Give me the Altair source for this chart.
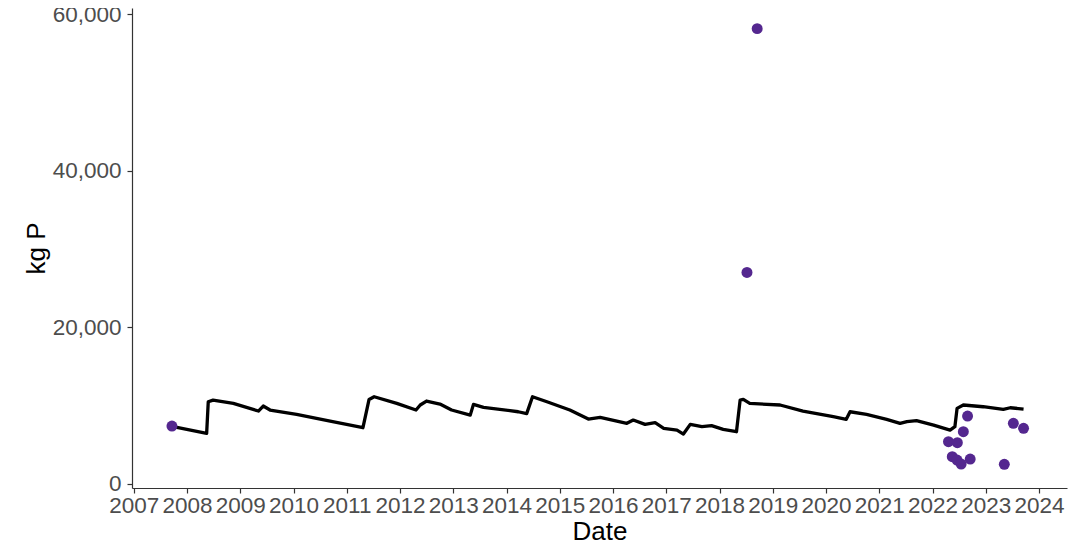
import altair as alt
import pandas as pd

line_dates = [
    "2007-09-20", "2008-05-15", "2008-05-26", "2008-06-28", "2008-11-14",
    "2009-05-05", "2009-06-07", "2009-07-24", "2010-01-22", "2010-09-09",
    "2011-04-22", "2011-06-03", "2011-07-08", "2011-12-10", "2012-04-20",
    "2012-05-19", "2012-07-01", "2012-10-01", "2012-12-20", "2013-04-27",
    "2013-05-19", "2013-07-27", "2014-03-22", "2014-05-19", "2014-06-28",
    "2014-10-05", "2015-03-11", "2015-07-16", "2015-10-05", "2016-04-05",
    "2016-05-19", "2016-08-08", "2016-10-16", "2016-12-14", "2017-03-15",
    "2017-04-28", "2017-06-14", "2017-09-02", "2017-11-07", "2018-01-26",
    "2018-04-27", "2018-05-22", "2018-06-13", "2018-07-27", "2019-02-20",
    "2019-07-27", "2020-02-20", "2020-05-19", "2020-06-14", "2020-10-05",
    "2021-02-20", "2021-05-23", "2021-07-09", "2021-09-13", "2022-01-08",
    "2022-05-01", "2022-06-03", "2022-06-18", "2022-07-31", "2022-12-14",
    "2023-05-01", "2023-06-18", "2023-09-17",
]
line_values = [
    7350, 6470, 10500, 10720, 10300,
    9320, 9960, 9450, 8900, 8040,
    7190, 10800, 11150, 10300, 9450,
    10090, 10600, 10210, 9450, 8800,
    10170, 9790, 9230, 8990, 11150,
    10510, 9450, 8300, 8510, 7750,
    8170, 7620, 7830, 7110, 6890,
    6380, 7620, 7320, 7450, 6980,
    6680, 10720, 10810, 10300, 10090,
    9320, 8600, 8260, 9230, 8900,
    8260, 7750, 7960, 8090, 7530,
    6890, 7320, 9660, 10090, 9870,
    9530, 9740, 9570,
]

point_dates = [
    "2007-09-20", "2018-07-08", "2018-09-16", "2022-04-20", "2022-05-16",
    "2022-06-20", "2022-06-18", "2022-07-16", "2022-07-31", "2022-08-29",
    "2022-09-16", "2023-05-08", "2023-07-09", "2023-09-17",
]
point_values = [
    7400, 27030, 58170, 5400, 3490,
    5270, 3060, 2550, 6680, 8680,
    3190, 2510, 7750, 7110,
]

line_df = pd.DataFrame({"Date": line_dates, "kgP": line_values})
point_df = pd.DataFrame({"Date": point_dates, "kgP": point_values})

FONT = "Liberation Sans"

x_enc = alt.X(
    "Date:T",
    title="Date",
    scale=alt.Scale(
        type="utc",
        domain=[alt.DateTime(year=2006, month=12, date=20, utc=True),
                alt.DateTime(year=2024, month=7, date=11, utc=True)],
    ),
    axis=alt.Axis(
        format="%Y",
        tickCount={"interval": "year", "step": 1},
        labelFlush=False,
        labelOverlap=False,
    ),
)
y_enc = alt.Y(
    "kgP:Q",
    title="kg P",
    scale=alt.Scale(domain=[-511, 60805], nice=False, zero=False),
    axis=alt.Axis(values=[0, 20000, 40000, 60000], format=",.0f"),
)

line = alt.Chart(line_df).mark_line(
    color="black", strokeWidth=3.3, strokeJoin="round"
).encode(x=x_enc, y=y_enc)
points = alt.Chart(point_df).mark_circle(color="#54278F", opacity=1, size=120).encode(x=x_enc, y=y_enc)

chart = (
    alt.layer(line, points)
    .properties(
        width=935,
        height=480,
        autosize=alt.AutoSizeParams(type="none"),
        padding={"left": 124, "top": 0, "right": 12, "bottom": 54},
    )
    .configure_view(stroke=None)
    .configure_axis(
        grid=False,
        domainColor="#333333",
        domainWidth=1.2,
        tickColor="#333333",
        tickSize=5,
        tickWidth=1.2,
        labelFont=FONT,
        labelFontSize=22.5,
        labelColor="#4D4D4D",
        titleFont=FONT,
        titleFontSize=26,
        titleFontWeight="normal",
        titleColor="black",
    )
    .configure_axisX(labelPadding=1, titlePadding=2)
    .configure_axisY(labelPadding=6, titlePadding=3)
)

chart.save("out.html", embed_options={"renderer": "svg", "actions": False})
